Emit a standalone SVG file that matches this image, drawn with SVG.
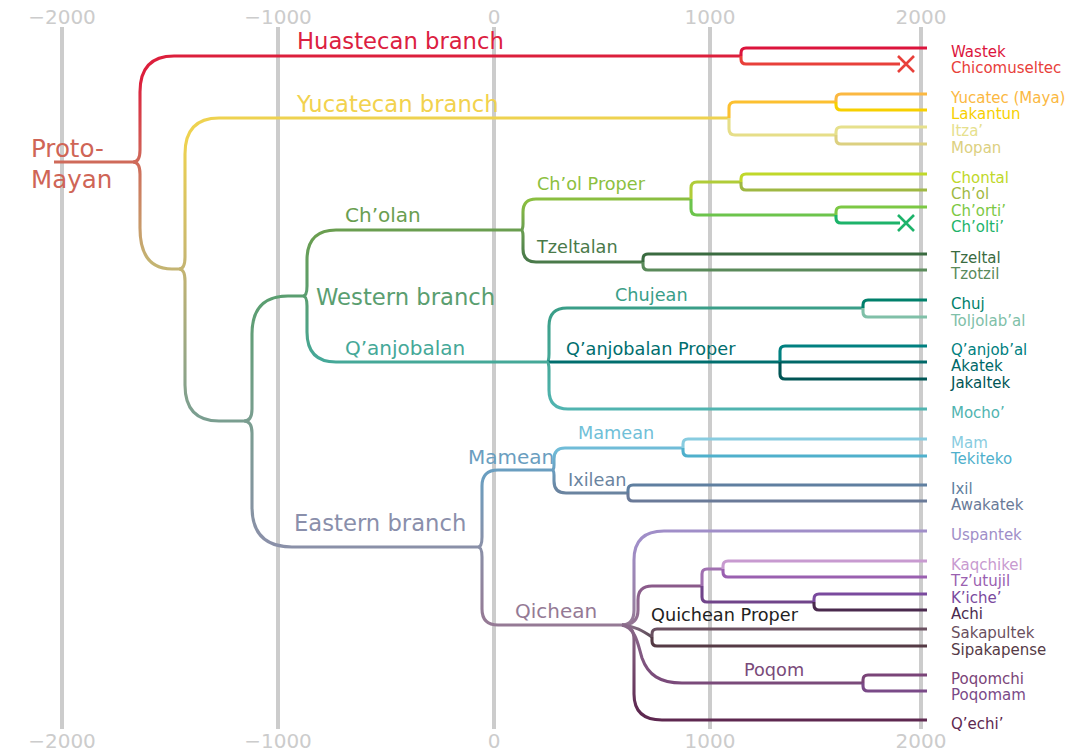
<svg xmlns="http://www.w3.org/2000/svg" width="1065" height="753" viewBox="0 0 1065 753">
<style>
text{font-family:"DejaVu Sans","Liberation Sans",sans-serif}
.ax{font-size:20px;fill:#cccccc;text-anchor:middle}
.grid{stroke:#cccccc;stroke-width:4}
.e{fill:none;stroke-width:3.1;stroke-linejoin:round}
.lf{font-size:15px}
.big{font-size:22.7px}
.mid{font-size:20px}
.sm{font-size:17.7px}
.x{fill:none;stroke-width:2.6}
</style>
<defs>
<linearGradient id="gRH" gradientUnits="userSpaceOnUse" x1="0" y1="162" x2="0" y2="80"><stop offset="0" stop-color="#cf6a5a"/><stop offset="1" stop-color="#dc1f3c"/></linearGradient>
<linearGradient id="gRR" gradientUnits="userSpaceOnUse" x1="0" y1="162" x2="0" y2="262"><stop offset="0" stop-color="#cf6a5a"/><stop offset="1" stop-color="#c4b472"/></linearGradient>
<linearGradient id="gY" gradientUnits="userSpaceOnUse" x1="0" y1="269" x2="0" y2="140"><stop offset="0" stop-color="#c4b472"/><stop offset="1" stop-color="#eed250"/></linearGradient>
<linearGradient id="gC" gradientUnits="userSpaceOnUse" x1="0" y1="269" x2="0" y2="415"><stop offset="0" stop-color="#c4b472"/><stop offset="1" stop-color="#7a9e90"/></linearGradient>
<linearGradient id="gW" gradientUnits="userSpaceOnUse" x1="0" y1="421" x2="0" y2="300"><stop offset="0" stop-color="#7a9e90"/><stop offset="1" stop-color="#5a9e70"/></linearGradient>
<linearGradient id="gE" gradientUnits="userSpaceOnUse" x1="0" y1="421" x2="0" y2="540"><stop offset="0" stop-color="#7a9e90"/><stop offset="1" stop-color="#8a90a8"/></linearGradient>
<linearGradient id="gCh" gradientUnits="userSpaceOnUse" x1="0" y1="296" x2="0" y2="235"><stop offset="0" stop-color="#5a9e70"/><stop offset="1" stop-color="#6a9e50"/></linearGradient>
<linearGradient id="gQ" gradientUnits="userSpaceOnUse" x1="0" y1="296" x2="0" y2="358"><stop offset="0" stop-color="#5a9e70"/><stop offset="1" stop-color="#45a898"/></linearGradient>
<linearGradient id="gM" gradientUnits="userSpaceOnUse" x1="0" y1="547" x2="0" y2="475"><stop offset="0" stop-color="#8a90a8"/><stop offset="1" stop-color="#6a9ec0"/></linearGradient>
<linearGradient id="gK" gradientUnits="userSpaceOnUse" x1="0" y1="547" x2="0" y2="620"><stop offset="0" stop-color="#8a90a8"/><stop offset="1" stop-color="#957a95"/></linearGradient>
<linearGradient id="gCP" gradientUnits="userSpaceOnUse" x1="0" y1="230" x2="0" y2="202"><stop offset="0" stop-color="#6a9e50"/><stop offset="1" stop-color="#8abe40"/></linearGradient>
<linearGradient id="gTz" gradientUnits="userSpaceOnUse" x1="0" y1="230" x2="0" y2="258"><stop offset="0" stop-color="#6a9e50"/><stop offset="1" stop-color="#4a7a4a"/></linearGradient>
<linearGradient id="gCj" gradientUnits="userSpaceOnUse" x1="0" y1="362" x2="0" y2="312"><stop offset="0" stop-color="#45a898"/><stop offset="1" stop-color="#3a9e88"/></linearGradient>
<linearGradient id="gMo" gradientUnits="userSpaceOnUse" x1="0" y1="362" x2="0" y2="405"><stop offset="0" stop-color="#45a898"/><stop offset="1" stop-color="#50b4b0"/></linearGradient>
<linearGradient id="gMs" gradientUnits="userSpaceOnUse" x1="0" y1="470" x2="0" y2="450"><stop offset="0" stop-color="#6a9ec0"/><stop offset="1" stop-color="#70bcd8"/></linearGradient>
<linearGradient id="gIx" gradientUnits="userSpaceOnUse" x1="0" y1="470" x2="0" y2="490"><stop offset="0" stop-color="#6a9ec0"/><stop offset="1" stop-color="#6a84a0"/></linearGradient>
<linearGradient id="gUs" gradientUnits="userSpaceOnUse" x1="0" y1="625" x2="0" y2="545"><stop offset="0" stop-color="#957a95"/><stop offset="1" stop-color="#a08ec8"/></linearGradient>
<linearGradient id="gKi" gradientUnits="userSpaceOnUse" x1="622" y1="625" x2="650" y2="590"><stop offset="0" stop-color="#957a95"/><stop offset="1" stop-color="#8a5a8a"/></linearGradient>
<linearGradient id="gQP" gradientUnits="userSpaceOnUse" x1="622" y1="625" x2="652" y2="637"><stop offset="0" stop-color="#957a95"/><stop offset="1" stop-color="#5a4a55"/></linearGradient>
<linearGradient id="gPo" gradientUnits="userSpaceOnUse" x1="0" y1="625" x2="0" y2="680"><stop offset="0" stop-color="#8a6a8a"/><stop offset="1" stop-color="#7a4a7a"/></linearGradient>
<linearGradient id="gQe" gradientUnits="userSpaceOnUse" x1="0" y1="625" x2="0" y2="712"><stop offset="0" stop-color="#8a6a8a"/><stop offset="1" stop-color="#5e2850"/></linearGradient>
</defs>
<rect width="1065" height="753" fill="#ffffff"/>
<g id="axis">
<line class="grid" x1="62" y1="27" x2="62" y2="729"/>
<line class="grid" x1="278" y1="27" x2="278" y2="729"/>
<line class="grid" x1="494" y1="27" x2="494" y2="729"/>
<line class="grid" x1="710" y1="27" x2="710" y2="729"/>
<line class="grid" x1="921" y1="27" x2="921" y2="729"/>
<text class="ax" x="62" y="24">−2000</text>
<text class="ax" x="278" y="24">−1000</text>
<text class="ax" x="494" y="24">0</text>
<text class="ax" x="710" y="24">1000</text>
<text class="ax" x="921" y="24">2000</text>
<text class="ax" x="62" y="748">−2000</text>
<text class="ax" x="278" y="748">−1000</text>
<text class="ax" x="494" y="748">0</text>
<text class="ax" x="710" y="748">1000</text>
<text class="ax" x="921" y="748">2000</text>
</g>
<g id="connectors">
<path class="e" stroke="#cf6a5a" d="M54 162H133"/>
<path class="e" stroke="url(#gRH)" d="M133 162Q140 162 140 150V92Q140 56 174 56H741"/>
<path class="e" stroke="url(#gRR)" d="M133 162Q140 162 140 174V228Q140 269 172 269H179"/>
<path class="e" stroke="url(#gY)" d="M179 269Q185 269 185 257V154Q185 118 219 118H729"/>
<path class="e" stroke="url(#gC)" d="M179 269Q185 269 185 281V385Q185 421 219 421H244"/>
<path class="e" stroke="url(#gW)" d="M244 421Q252 421 252 409V334Q252 296 288 296H303"/>
<path class="e" stroke="url(#gE)" d="M244 421Q252 421 252 433V507Q252 547 292 547H478"/>
<path class="e" stroke="url(#gCh)" d="M303 296Q307 296 307 286V260Q307 230 336 230H521"/>
<path class="e" stroke="url(#gQ)" d="M303 296Q307 296 307 306V332Q307 362 336 362H547"/>
<path class="e" stroke="url(#gM)" d="M478 547Q482 547 482 537V486Q482 470 498 470H552"/>
<path class="e" stroke="url(#gK)" d="M478 547Q482 547 482 557V609Q482 625 498 625H622"/>
<path class="e" stroke="url(#gCP)" d="M521 230Q523 230 523 224V212Q523 199 536 199H691"/>
<path class="e" stroke="url(#gTz)" d="M521 230Q523 230 523 236V249Q523 262 536 262H643"/>
<path class="e" stroke="url(#gCj)" d="M547 362Q549 362 549 354V326Q549 308 567 308H863"/>
<path class="e" stroke="#006e6e" d="M547 362H780"/>
<path class="e" stroke="url(#gMo)" d="M547 362Q549 362 549 370V390Q549 409 568 409H927"/>
<path class="e" stroke="url(#gMs)" d="M552 470Q554 470 554 465V459Q554 448 565 448H683"/>
<path class="e" stroke="url(#gIx)" d="M552 470Q554 470 554 475V481Q554 493 566 493H628"/>
<path class="e" stroke="url(#gUs)" d="M622 625Q634 625 634 610V560Q634 531 664 531H927"/>
<path class="e" stroke="url(#gKi)" d="M622 625Q638 625 638 610V600Q638 586 652 586H702"/>
<path class="e" stroke="url(#gQP)" d="M622 625C635 626 643 631 652 637"/>
<path class="e" stroke="url(#gPo)" d="M622 625C636 628 638 645 642 658C648 675 660 683 682 683H863"/>
<path class="e" stroke="url(#gQe)" d="M622 625Q634 625 634 640V694Q634 720 662 720H927"/>
<path class="e" stroke="#dc143c" d="M741 56V53Q741 48 746 48H927"/>
<path class="e" stroke="#e8403a" d="M741 56V59Q741 64 746 64H900"/>
<path class="e" stroke="#fcc030" d="M729 118V108Q729 102 735 102H836"/>
<path class="e" stroke="#e6de88" d="M729 118V129Q729 135 735 135H836"/>
<path class="e" stroke="#fbb841" d="M836 102V99Q836 94 841 94H927"/>
<path class="e" stroke="#f7d000" d="M836 102V105Q836 110 841 110H927"/>
<path class="e" stroke="#e6e08c" d="M836 135V132Q836 127 841 127H927"/>
<path class="e" stroke="#dcd080" d="M836 135V139Q836 144 841 144H927"/>
<path class="e" stroke="#b0cc38" d="M691 199V188Q691 182 697 182H741"/>
<path class="e" stroke="#6cc44c" d="M691 199V209Q691 215 697 215H836"/>
<path class="e" stroke="#c0d82a" d="M741 182V179Q741 174 746 174H927"/>
<path class="e" stroke="#9fb843" d="M741 182V185Q741 190 746 190H927"/>
<path class="e" stroke="#7cc844" d="M836 215V212Q836 207 841 207H927"/>
<path class="e" stroke="#1db36a" d="M836 215V218Q836 223 841 223H900"/>
<path class="e" stroke="#3a6b40" d="M643 262V259Q643 254 648 254H927"/>
<path class="e" stroke="#5a8a5a" d="M643 262V265Q643 270 648 270H927"/>
<path class="e" stroke="#00806b" d="M863 308V305Q863 300 868 300H927"/>
<path class="e" stroke="#80c0a8" d="M863 308V312Q863 317 868 317H927"/>
<path class="e" stroke="#008080" d="M780 362V351Q780 346 785 346H927"/>
<path class="e" stroke="#006868" d="M780 362H927"/>
<path class="e" stroke="#005555" d="M780 362V374Q780 379 785 379H927"/>
<path class="e" stroke="#88cce0" d="M683 448V444Q683 439 688 439H927"/>
<path class="e" stroke="#4fb0cc" d="M683 448V451Q683 456 688 456H927"/>
<path class="e" stroke="#5f7fa0" d="M628 493V490Q628 485 633 485H927"/>
<path class="e" stroke="#6a7a98" d="M628 493V496Q628 501 633 501H927"/>
<path class="e" stroke="#a070b0" d="M702 586V574Q702 569 707 569H723"/>
<path class="e" stroke="#70448a" d="M702 586V597Q702 602 707 602H814"/>
<path class="e" stroke="#c89ad0" d="M723 569V566Q723 561 728 561H927"/>
<path class="e" stroke="#9a60b0" d="M723 569V572Q723 577 728 577H927"/>
<path class="e" stroke="#7a4a9e" d="M814 602V599Q814 594 819 594H927"/>
<path class="e" stroke="#4a2a4e" d="M814 602V605Q814 610 819 610H927"/>
<path class="e" stroke="#6a5060" d="M652 637V634Q652 629 657 629H927"/>
<path class="e" stroke="#553a45" d="M652 637V641Q652 646 657 646H927"/>
<path class="e" stroke="#7a4478" d="M863 683V680Q863 675 868 675H927"/>
<path class="e" stroke="#7a4a88" d="M863 683V686Q863 691 868 691H927"/>
<path class="x" stroke="#e8403a" d="M898 56L914 72M914 56L898 72"/>
<path class="x" stroke="#1db36a" d="M898 215L914 231M914 215L898 231"/>
</g>
<g id="n-proto"><text x="31" y="157" fill="#cf6556" font-size="24.5">Proto-</text><text x="31" y="188" fill="#cf6556" font-size="24.5">Mayan</text></g>
<g id="n-huastecan"><text class="big" x="297" y="49" fill="#dc2040">Huastecan branch</text></g>
<g id="n-yucatecan"><text class="big" x="297" y="112" fill="#f2d24e">Yucatecan branch</text></g>
<g id="n-western"><text class="big" x="316" y="305" fill="#5a9e70">Western branch</text></g>
<g id="n-eastern"><text class="big" x="294" y="531" fill="#8a8fab">Eastern branch</text></g>
<g id="n-cholan"><text class="mid" x="345" y="222" fill="#6a9e50">Ch’olan</text></g>
<g id="n-qanjobalan"><text class="mid" x="345" y="355" fill="#45a898">Q’anjobalan</text></g>
<g id="n-mamean"><text class="mid" x="468" y="464" fill="#6a9ec0">Mamean</text></g>
<g id="n-qichean"><text class="mid" x="515" y="618" fill="#957a95">Qichean</text></g>
<g id="n-cholproper"><text class="sm" x="537" y="190" fill="#8cc040">Ch’ol Proper</text></g>
<g id="n-tzeltalan"><text class="sm" x="537" y="253" fill="#4a7a4a">Tzeltalan</text></g>
<g id="n-chujean"><text class="sm" x="615" y="301" fill="#3a9e88">Chujean</text></g>
<g id="n-qanjproper"><text class="sm" x="566" y="355" fill="#006e6e">Q’anjobalan Proper</text></g>
<g id="n-mamean2"><text class="sm" x="578" y="439" fill="#70c0d8">Mamean</text></g>
<g id="n-ixilean"><text class="sm" x="568" y="486" fill="#6a84a0">Ixilean</text></g>
<g id="n-quicheanproper"><text class="sm" x="651" y="621" fill="#222222">Quichean Proper</text></g>
<g id="n-poqom"><text class="sm" x="744" y="676" fill="#7a4a7a">Poqom</text></g>
<g id="leaves">
<g id="l-wastek"><text class="lf" x="951" y="56.5" fill="#dc143c">Wastek</text></g>
<g id="l-chicomuseltec"><text class="lf" x="951" y="72.5" fill="#e8403a">Chicomuseltec</text></g>
<g id="l-yucatec"><text class="lf" x="951" y="102.5" fill="#fbb841">Yucatec (Maya)</text></g>
<g id="l-lakantun"><text class="lf" x="951" y="118.5" fill="#f7d000">Lakantun</text></g>
<g id="l-itza"><text class="lf" x="951" y="135.5" fill="#e6e08c">Itza’</text></g>
<g id="l-mopan"><text class="lf" x="951" y="152.5" fill="#dcd080">Mopan</text></g>
<g id="l-chontal"><text class="lf" x="951" y="182.5" fill="#c0d82a">Chontal</text></g>
<g id="l-chol"><text class="lf" x="951" y="198.5" fill="#9fb843">Ch’ol</text></g>
<g id="l-chorti"><text class="lf" x="951" y="215.5" fill="#7cc844">Ch’orti’</text></g>
<g id="l-cholti"><text class="lf" x="951" y="231.5" fill="#1db36a">Ch’olti’</text></g>
<g id="l-tzeltal"><text class="lf" x="951" y="262.5" fill="#3a6b40">Tzeltal</text></g>
<g id="l-tzotzil"><text class="lf" x="951" y="278.5" fill="#5a8a5a">Tzotzil</text></g>
<g id="l-chuj"><text class="lf" x="951" y="308.5" fill="#00806b">Chuj</text></g>
<g id="l-toljolabal"><text class="lf" x="951" y="325.5" fill="#80c0a8">Toljolab’al</text></g>
<g id="l-qanjobal"><text class="lf" x="951" y="354.5" fill="#008080">Q’anjob’al</text></g>
<g id="l-akatek"><text class="lf" x="951" y="370.5" fill="#006868">Akatek</text></g>
<g id="l-jakaltek"><text class="lf" x="951" y="387.5" fill="#005555">Jakaltek</text></g>
<g id="l-mocho"><text class="lf" x="951" y="417.5" fill="#50b4b0">Mocho’</text></g>
<g id="l-mam"><text class="lf" x="951" y="447.5" fill="#88cce0">Mam</text></g>
<g id="l-tekiteko"><text class="lf" x="951" y="464" fill="#4fb0cc">Tekiteko</text></g>
<g id="l-ixil"><text class="lf" x="951" y="493.5" fill="#5f7fa0">Ixil</text></g>
<g id="l-awakatek"><text class="lf" x="951" y="509.5" fill="#6a7a98">Awakatek</text></g>
<g id="l-uspantek"><text class="lf" x="951" y="539.5" fill="#a08ec8">Uspantek</text></g>
<g id="l-kaqchikel"><text class="lf" x="951" y="569.5" fill="#c89ad0">Kaqchikel</text></g>
<g id="l-tzutujil"><text class="lf" x="951" y="585.5" fill="#9a60b0">Tz’utujil</text></g>
<g id="l-kiche"><text class="lf" x="951" y="602.5" fill="#7a4a9e">K’iche’</text></g>
<g id="l-achi"><text class="lf" x="951" y="618.5" fill="#4a2a4e">Achi</text></g>
<g id="l-sakapultek"><text class="lf" x="951" y="637.5" fill="#6a5060">Sakapultek</text></g>
<g id="l-sipakapense"><text class="lf" x="951" y="654.5" fill="#553a45">Sipakapense</text></g>
<g id="l-poqomchi"><text class="lf" x="951" y="683.5" fill="#7a4478">Poqomchi</text></g>
<g id="l-poqomam"><text class="lf" x="951" y="699.5" fill="#7a4a88">Poqomam</text></g>
<g id="l-qechi"><text class="lf" x="951" y="728.5" fill="#5e2850">Q’echi’</text></g>
</g>
</svg>
